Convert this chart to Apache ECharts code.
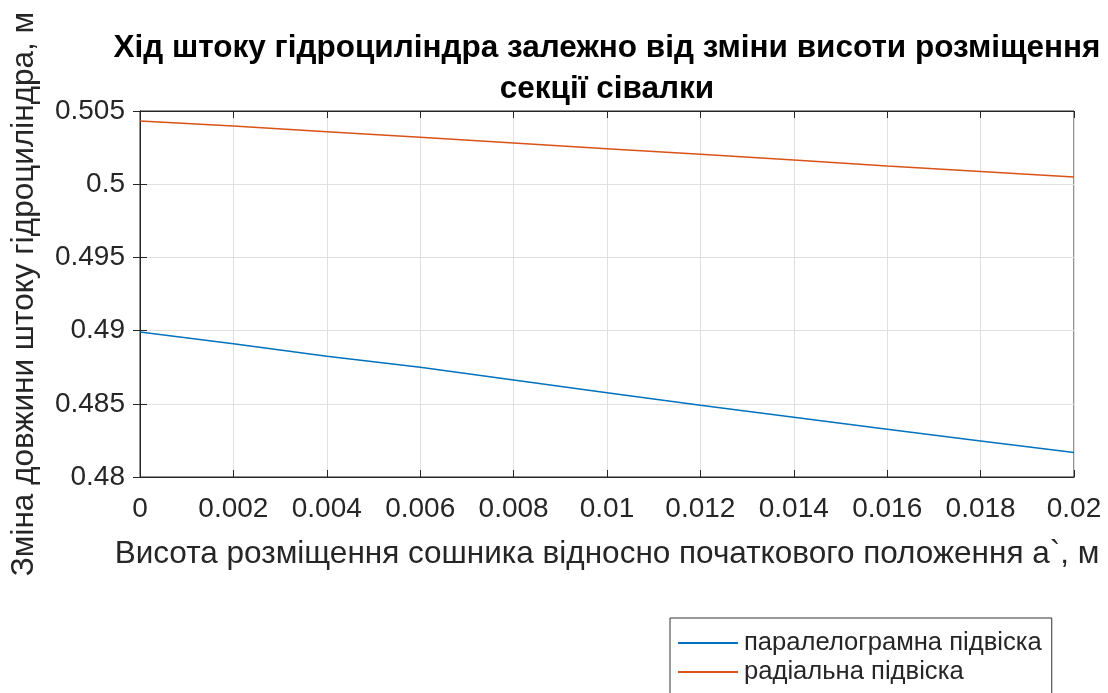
<!DOCTYPE html>
<html>
<head>
<meta charset="utf-8">
<script src="https://cdn.jsdelivr.net/npm/echarts@6/dist/echarts.min.js"></script>
<style>
  html, body { margin: 0; padding: 0; background: #fff; }
  #chart { width: 1108px; height: 693px; }
</style>
</head>
<body>
<div id="chart"></div>
<script>
// висота розміщення сошника, м
const xValues = [0, 0.002, 0.004, 0.006, 0.008, 0.01, 0.012, 0.014, 0.016, 0.018, 0.02]
// паралелограмна підвіска
const parallelValues = [0.4899, 0.4891, 0.48825, 0.4875, 0.48662, 0.48575, 0.4849, 0.48408, 0.48326, 0.48246, 0.48167]
// радіальна підвіска
const radialValues = [0.50432, 0.50397, 0.50359, 0.5032, 0.50281, 0.50242, 0.50204, 0.50165, 0.50125, 0.50087, 0.50049]
const seriesNames = ['паралелограмна підвіска', 'радіальна підвіска']

const font = "'Liberation Sans', Arial, sans-serif"
const toPairs = (ys) => xValues.map((x, i) => [x, ys[i]])

const chart = echarts.init(document.getElementById('chart'))
chart.setOption({
  animation: false,
  backgroundColor: '#fff',
  title: {
    text: 'Хід штоку гідроциліндра залежно від зміни висоти розміщення\nсекції сівалки',
    left: 602,
    top: 23,
    textAlign: 'center',
    textStyle: {
      fontFamily: font,
      fontSize: 31.5,
      fontWeight: 'bold',
      color: '#000',
      lineHeight: 41,
    },
  },
  grid: {
    left: 137,
    top: 111,
    right: 34,
    bottom: 216,
    show: true,
    borderColor: '#262626',
    borderWidth: 1,
  },
  legend: {
    data: seriesNames,
    orient: 'vertical',
    left: 670,
    top: 618,
    height: 100,
    padding: [12, 10, 30, 8],
    itemGap: 3,
    itemWidth: 62,
    itemHeight: 2,
    icon: 'path://M0,0H60V2H0Z',
    backgroundColor: '#fff',
    borderColor: '#333',
    borderWidth: 1,
    borderRadius: 0,
    textStyle: {
      fontFamily: font,
      fontSize: 25.6,
      color: '#262626',
    },
  },
  xAxis: [
    {
      type: 'value',
      min: 0,
      max: 0.02,
      interval: 0.002,
      name: 'Висота розміщення сошника відносно початкового положення а`, м',
      nameLocation: 'middle',
      nameGap: 61,
      nameTextStyle: { fontFamily: font, fontSize: 31.5, color: '#262626' },
      axisLine: { show: true, lineStyle: { color: '#262626' } },
      axisTick: { show: true, inside: true, length: 7, lineStyle: { color: '#262626' } },
      axisLabel: { fontFamily: font, fontSize: 28, color: '#262626', margin: 18 },
      splitLine: { show: true, lineStyle: { color: '#dfdfdf' } },
    },
    {
      type: 'value',
      position: 'top',
      min: 0,
      max: 0.02,
      interval: 0.002,
      axisLine: { show: true, lineStyle: { color: '#262626' } },
      axisTick: { show: true, inside: true, length: 7, lineStyle: { color: '#262626' } },
      axisLabel: { show: false },
      splitLine: { show: false },
    },
  ],
  yAxis: [
    {
      type: 'value',
      min: 0.48,
      max: 0.505,
      interval: 0.005,
      name: 'Зміна довжини штоку гідроциліндра, м',
      nameLocation: 'middle',
      nameGap: 100,
      nameTextStyle: { fontFamily: font, fontSize: 31.5, color: '#262626' },
      axisLine: { show: true, lineStyle: { color: '#262626' } },
      axisTick: { show: true, inside: true, length: 7, lineStyle: { color: '#262626' } },
      axisLabel: { fontFamily: font, fontSize: 28, color: '#262626', margin: 15 },
      splitLine: { show: true, lineStyle: { color: '#dfdfdf' } },
    },
    {
      type: 'value',
      position: 'right',
      min: 0.48,
      max: 0.505,
      interval: 0.005,
      axisLine: { show: true, lineStyle: { color: '#262626' } },
      axisTick: { show: true, inside: true, length: 7, lineStyle: { color: '#262626' } },
      axisLabel: { show: false },
      splitLine: { show: false },
    },
  ],
  series: [
    {
      name: seriesNames[0],
      type: 'line',
      data: toPairs(parallelValues),
      symbol: 'none',
      lineStyle: { color: '#0072BD', width: 1.5 },
      itemStyle: { color: '#0072BD' },
    },
    {
      name: seriesNames[1],
      type: 'line',
      data: toPairs(radialValues),
      symbol: 'none',
      lineStyle: { color: '#D95319', width: 1.5 },
      itemStyle: { color: '#D95319' },
    },
  ],
})
</script>
</body>
</html>
